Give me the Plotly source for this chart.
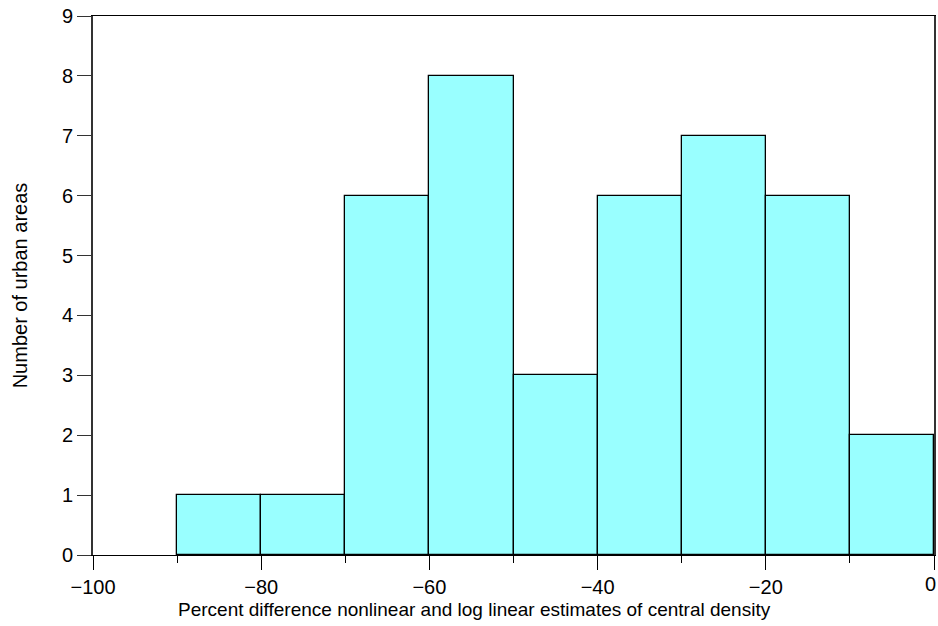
import plotly.graph_objects as go

bin_centers = [-85, -75, -65, -55, -45, -35, -25, -15, -5]
counts = [1, 1, 6, 8, 3, 6, 7, 6, 2]
x_ticks = [-100, -80, -60, -40, -20, 0]
x_tick_labels = ["\u2212100", "\u221280", "\u221260", "\u221240", "\u221220", "0"]
y_ticks = [0, 1, 2, 3, 4, 5, 6, 7, 8, 9]
x_title = "Percent difference nonlinear and log linear estimates of central density"
y_title = "Number of urban areas"

fig = go.Figure()
fig.add_trace(go.Bar(
    x=bin_centers, y=counts, width=10,
    marker=dict(color="#99FFFF", line=dict(color="black", width=1.3)),
))

font = "Liberation Sans, Arial, Helvetica, sans-serif"
fig.update_layout(
    width=938, height=626,
    margin=dict(l=93, r=2, t=16, b=71),
    plot_bgcolor="white", paper_bgcolor="white",
    showlegend=False, bargap=0,
    font=dict(family=font, size=20, color="black"),
)
fig.update_xaxes(
    range=[-100, 0], tickvals=x_ticks, ticktext=x_tick_labels,
    ticks="outside", ticklen=14, tickwidth=1.3, tickcolor="black",
    showline=True, linecolor="black", linewidth=1.3, mirror=True,
    showgrid=False, zeroline=False,
    minor=dict(dtick=10, tick0=0, ticks="outside", ticklen=7, tickwidth=1.3, tickcolor="black", showgrid=False),
    tickfont=dict(size=20),
)
fig.update_yaxes(
    range=[0, 9], tickvals=y_ticks,
    ticks="outside", ticklen=14, tickwidth=1.3, tickcolor="#333",
    showline=True, linecolor="#333", linewidth=1.8, mirror=True,
    showgrid=False, zeroline=False,
    tickfont=dict(size=20),
    title=dict(text=y_title, font=dict(size=20), standoff=29),
)
# last tick label at the right edge
fig.add_annotation(x=x_ticks[-1], y=0, xref="x", yref="y", text=x_tick_labels[-1],
                   showarrow=False, xanchor="center", yanchor="middle", yshift=-29, xshift=-4,
                   font=dict(size=20))
fig.add_annotation(x=0.454, y=0, xref="paper", yref="paper", text=x_title,
                   showarrow=False, xanchor="center", yanchor="middle", yshift=-54,
                   font=dict(size=19))
fig.write_html("out.html", config={"displayModeBar": False},
               post_script="document.body.style.margin='0';document.body.style.overflow='hidden';")
